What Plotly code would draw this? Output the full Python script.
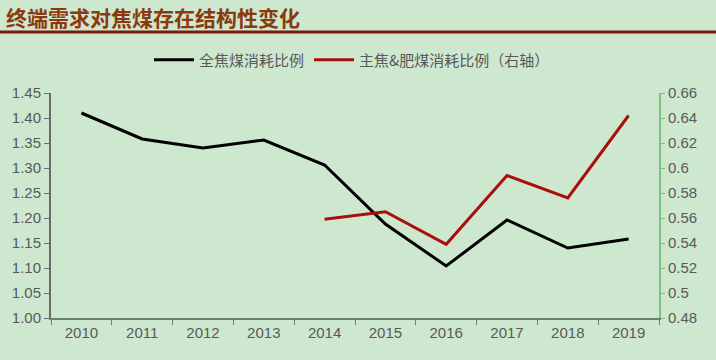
import plotly.graph_objects as go

years = ["2010", "2011", "2012", "2013", "2014", "2015", "2016", "2017", "2018", "2019"]
all_coking = [1.41, 1.358, 1.34, 1.356, 1.306, 1.188, 1.104, 1.196, 1.14, 1.158]
main_fat_years = ["2014", "2015", "2016", "2017", "2018", "2019"]
main_fat = [0.559, 0.565, 0.539, 0.594, 0.576, 0.642]
left_ticks = [1.00, 1.05, 1.10, 1.15, 1.20, 1.25, 1.30, 1.35, 1.40, 1.45]
right_ticks = [0.48, 0.50, 0.52, 0.54, 0.56, 0.58, 0.60, 0.62, 0.64, 0.66]
right_labels = ["0.48", "0.5", "0.52", "0.54", "0.56", "0.58", "0.6", "0.62", "0.64", "0.66"]

BG = "#cde8cf"
W, H = 716, 360
ml, mr, mt, mb = 51, 57, 93, 42
ph = H - mt - mb
pw = W - ml - mr

def py(pix):
    return (H - mb - pix) / ph

def px(pix):
    return (pix - ml) / pw

fig = go.Figure()
fig.add_trace(go.Scatter(x=years, y=all_coking, mode="lines", name="全焦煤消耗比例",
                         line=dict(color="#000000", width=3)))
fig.add_trace(go.Scatter(x=main_fat_years, y=main_fat, mode="lines", name="主焦&肥煤消耗比例（右轴）",
                         line=dict(color="#a80f0f", width=3), yaxis="y2"))

fig.update_layout(
    width=W, height=H,
    margin=dict(l=ml, r=mr, t=mt, b=mb, autoexpand=False),
    paper_bgcolor=BG, plot_bgcolor=BG,
    font=dict(family="Liberation Sans, Arial", size=14, color="#595959"),
    showlegend=True,
    legend=dict(orientation="h", x=px(352), xanchor="center", y=py(60), yanchor="middle",
                bgcolor="rgba(0,0,0,0)", font=dict(family="Noto Sans CJK SC", size=15, color="#595959"),
                itemwidth=40, tracegroupgap=0),
    xaxis=dict(type="category", categoryorder="array", categoryarray=years, automargin=False,
               range=[-0.5, 9.5], showgrid=False, showline=True, linecolor="#6e7f6e", linewidth=2,
               ticks="outside", tickson="boundaries", ticklen=5, tickcolor="#6e7f6e",
               tickfont=dict(size=15, color="#595959"), zeroline=False),
    yaxis=dict(range=[1.0, 1.45], tickvals=left_ticks, ticktext=[f"{v:.2f}" for v in left_ticks],
               automargin=False,
               showgrid=False, showline=True, linecolor="#6b6b6b", linewidth=2,
               ticks="outside", ticklen=5, tickcolor="#6b6b6b", zeroline=False,
               tickfont=dict(size=15, color="#595959")),
    yaxis2=dict(range=[0.48, 0.66], tickvals=right_ticks, ticktext=right_labels, automargin=False,
                overlaying="y", side="right", showgrid=False, showline=True,
                linecolor="#7dbf84", linewidth=2, ticks="outside", ticklen=4, tickcolor="#7dbf84",
                zeroline=False, tickfont=dict(size=15, color="#595959")),
)

fig.add_annotation(text="<b>终端需求对焦煤存在结构性变化</b>", xref="paper", yref="paper",
                   x=px(4), y=py(17), xanchor="left", yanchor="middle",
                   showarrow=False, font=dict(family="Noto Sans CJK SC", size=21, color="#8b3a0e"))
fig.add_shape(type="line", xref="paper", yref="paper",
              x0=px(0), x1=px(W), y0=py(32), y1=py(32),
              line=dict(color="#7a1a10", width=3))

fig.write_html("out.html", config={"displayModeBar": False},
               post_script="document.body.style.margin='0';document.body.style.background='%s';" % BG)
